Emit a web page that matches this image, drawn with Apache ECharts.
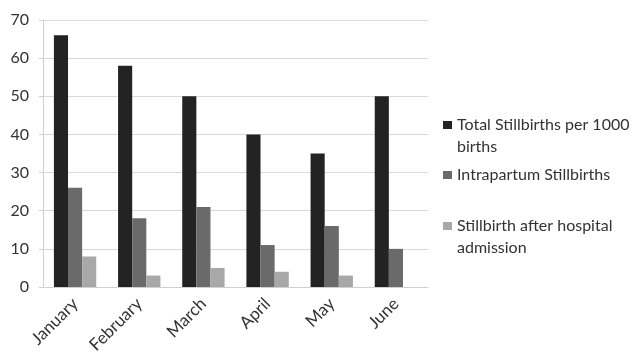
<!DOCTYPE html>
<html>
<head>
<meta charset="utf-8">
<script src="https://cdn.jsdelivr.net/npm/echarts@6/dist/echarts.min.js"></script>
<style>
  html, body { margin: 0; padding: 0; background: #fff; }
  #chart { width: 639px; height: 355px; }
</style>
</head>
<body>
<div id="chart"></div>
<script>
// Monthly stillbirth figures
const months = ['January', 'February', 'March', 'April', 'May', 'June'];
const totalStillbirths = [66, 58, 50, 40, 35, 50];
const intrapartumStillbirths = [26, 18, 21, 11, 16, 10];
const afterAdmissionStillbirths = [8, 3, 5, 4, 3, null];
const yTicks = { min: 0, max: 70, interval: 10 };

// Legend labels, wrapped onto the lines they are shown on
const legendLines = [
  ['Total Stillbirths per 1000', 'births'],
  ['Intrapartum Stillbirths'],
  ['Stillbirth after hospital', 'admission']
];
const seriesNames = legendLines.map(l => l.join(' '));
const seriesColors = ['#232323', '#6a6a6a', '#a8a8a8'];

const FONT = 'Lato';
const FONT_SIZE = 16;
const TEXT_COLOR = '#333';
const LEGEND_LEFT = 443;
const ICON_W = 9;
const ICON_TEXT_GAP = 5;
const LEGEND_TEXT_LEFT = LEGEND_LEFT + ICON_W + ICON_TEXT_GAP;
const LINE_H = 22;
// vertical centre of the first line of each legend entry
const legendRowY = [125, 175, 226];

function legendFor(i) {
  return {
    data: [seriesNames[i]],
    left: LEGEND_LEFT,
    top: legendRowY[i] - LINE_H / 2,
    padding: 0,
    icon: 'rect',
    itemWidth: ICON_W,
    itemHeight: 8,
    itemGap: 0,
    selectedMode: false,
    formatter: () => legendLines[i][0],
    textStyle: {
      fontFamily: FONT,
      fontSize: FONT_SIZE,
      color: TEXT_COLOR,
      lineHeight: LINE_H
    }
  };
}

// continuation lines of the wrapped legend labels
const legendContinuations = [];
legendLines.forEach((lines, i) => {
  lines.slice(1).forEach((txt, k) => {
    legendContinuations.push({
      type: 'text',
      x: LEGEND_TEXT_LEFT,
      y: legendRowY[i] + LINE_H * (k + 1),
      style: {
        text: txt,
        x: 0,
        y: 0,
        textAlign: 'left',
        textVerticalAlign: 'middle',
        fontFamily: FONT,
        fontSize: FONT_SIZE,
        fill: TEXT_COLOR
      }
    });
  });
});

const chart = echarts.init(document.getElementById('chart'), null, { renderer: 'canvas' });
chart.setOption({
  animation: false,
  grid: { left: 43, right: 211, top: 20, bottom: 68, containLabel: false, outerBoundsMode: 'none' },
  legend: legendLines.map((_, i) => legendFor(i)),
  graphic: legendContinuations,
  xAxis: {
    type: 'category',
    data: months,
    axisLine: { lineStyle: { color: '#d0d0d0' } },
    axisTick: { length: 5, lineStyle: { color: '#d0d0d0' } },
    axisLabel: {
      rotate: 45,
      fontFamily: FONT,
      fontSize: 17,
      color: TEXT_COLOR,
      margin: 14
    }
  },
  yAxis: {
    type: 'value',
    min: yTicks.min,
    max: yTicks.max,
    interval: yTicks.interval,
    axisLine: { show: true, lineStyle: { color: '#d0d0d0' } },
    axisTick: { show: true, length: 4, lineStyle: { color: '#d0d0d0' } },
    splitLine: { lineStyle: { color: '#d9d9d9' } },
    axisLabel: {
      fontFamily: FONT,
      fontSize: FONT_SIZE,
      color: TEXT_COLOR,
      margin: 14
    }
  },
  series: [
    { name: seriesNames[0], type: 'bar', data: totalStillbirths, itemStyle: { color: seriesColors[0] }, barGap: '0%', barCategoryGap: '34%' },
    { name: seriesNames[1], type: 'bar', data: intrapartumStillbirths, itemStyle: { color: seriesColors[1] } },
    { name: seriesNames[2], type: 'bar', data: afterAdmissionStillbirths, itemStyle: { color: seriesColors[2] } }
  ]
});
</script>
</body>
</html>
